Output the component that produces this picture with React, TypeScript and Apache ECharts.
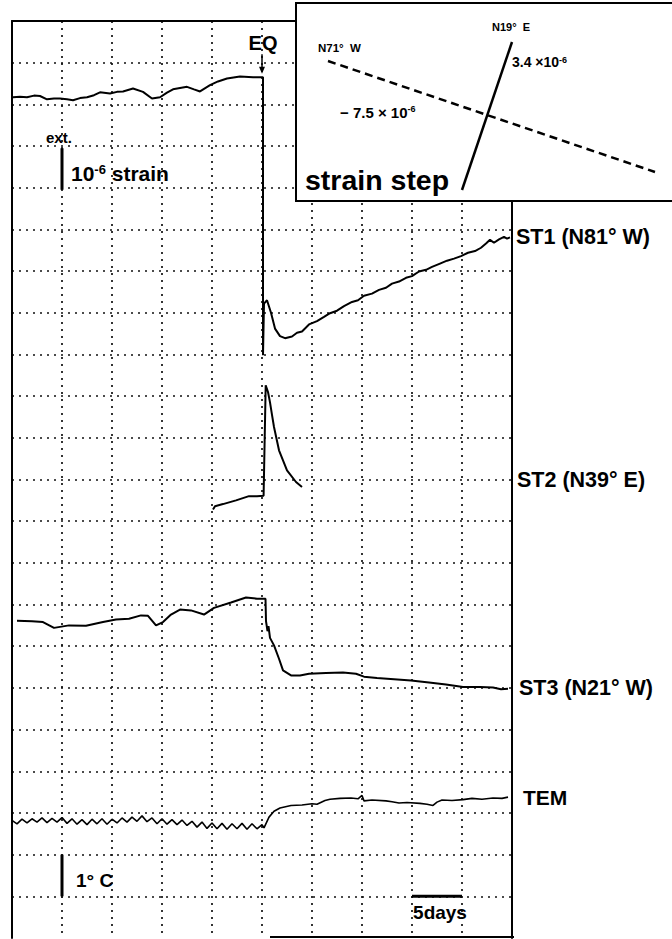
import React, { useEffect, useRef } from "react";
import * as echarts from "echarts";

// ---- axes (x in days, y in chart-paper grid units; 1 unit = 1e-6 strain / 1 deg C) ----
const DAY_MIN = 0;
const DAY_MAX = 50;
const DAY_STEP = 5;
const UNIT_MIN = 0;
const UNIT_MAX = 22;
const UNIT_STEP = 1;

// ---- ST1 (N81 W): pre-event part at top, step at EQ, post-event recovery ----
const st1Days = [0.1, 0.8, 1.5, 2.2, 2.8, 3.5, 4.2, 4.8, 5.5, 6.1, 6.8, 7.5, 8.2, 8.8, 9.8, 10.5, 11.1, 12.1, 13.1, 14.0, 14.8, 15.5, 16.1, 17.5, 18.2, 18.8, 19.8, 20.6, 21.5, 22.8, 24.1, 25.1,
  25.1, 25.2, 25.5, 25.9, 26.3, 26.8, 27.3, 28.0, 28.5, 29.0, 29.7, 30.5, 31.2, 31.8, 32.5, 33.2, 34.0, 34.6, 35.2, 36.0, 36.7, 37.4, 38.0, 38.7, 39.4, 40.0, 40.7, 41.4, 42.0, 42.8, 43.5, 44.2, 44.9, 45.6, 46.3, 46.9, 47.4, 47.8, 48.2, 48.7, 49.2, 49.5, 49.8];
const st1Vals = [20.17, 20.18, 20.17, 20.21, 20.2, 20.12, 20.14, 20.14, 20.12, 20.1, 20.15, 20.17, 20.22, 20.29, 20.26, 20.3, 20.31, 20.38, 20.3, 20.14, 20.17, 20.28, 20.36, 20.42, 20.36, 20.31, 20.46, 20.55, 20.62, 20.67, 20.65, 20.65,
  13.98, 15.22, 15.3, 15.0, 14.62, 14.44, 14.39, 14.43, 14.52, 14.55, 14.72, 14.8, 14.9, 14.99, 15.05, 15.16, 15.26, 15.3, 15.41, 15.46, 15.55, 15.6, 15.7, 15.75, 15.84, 15.88, 15.99, 16.03, 16.1, 16.18, 16.25, 16.3, 16.36, 16.44, 16.48, 16.56, 16.66, 16.75, 16.68, 16.76, 16.82, 16.78, 16.81];

// ---- ST2 (N39 E) ----
const st2Days = [20.1, 20.3, 21.1, 22.4, 23.7, 24.5, 25.16, 25.37, 25.6, 25.8, 26.0, 26.2, 26.7, 27.5, 28.4, 29.0];
const st2Vals = [10.28, 10.36, 10.41, 10.5, 10.6, 10.6, 10.61, 13.26, 13.1, 12.85, 12.55, 12.26, 11.7, 11.22, 10.94, 10.82];

// ---- ST3 (N21 W) ----
const st3Days = [0.5, 2.0, 3.1, 4.2, 5.7, 7.4, 9.1, 10.4, 11.7, 12.9, 13.6, 14.4, 15.1, 15.9, 16.8, 17.9, 19.2, 20.2, 21.9, 23.4, 24.5, 25.35,
  25.4, 25.55, 25.65, 25.8, 26.2, 26.7, 27.1, 27.9, 28.8, 29.7, 31.4, 33.1, 34.4, 35.2, 36.5, 38.2, 39.9, 41.7, 43.4, 45.1, 46.8, 48.1, 48.9, 49.6];
const st3Vals = [7.61, 7.6, 7.58, 7.44, 7.5, 7.49, 7.58, 7.64, 7.66, 7.74, 7.73, 7.5, 7.58, 7.76, 7.88, 7.86, 7.76, 7.92, 8.05, 8.17, 8.14, 8.14,
  7.6, 7.36, 7.48, 7.2, 7.02, 6.7, 6.42, 6.3, 6.3, 6.34, 6.36, 6.37, 6.34, 6.27, 6.24, 6.21, 6.18, 6.13, 6.08, 6.02, 6.02, 6.01, 5.97, 5.98];

// ---- TEM ----
const temDays = [0, 0.5, 1.0, 1.5, 2.0, 2.5, 3.0, 3.5, 4.0, 4.5, 5.0, 5.5, 6.0, 6.5, 7.0, 7.5, 8.0, 8.5, 9.0, 9.5, 10.0, 10.5, 11.0, 11.5, 12.0, 12.5, 13.0, 13.5, 14.0, 14.5, 15.0, 15.5, 16.0, 16.5, 17.0, 17.5, 18.0, 18.5, 19.0, 19.5, 20.0, 20.5, 21.0, 21.5, 22.0, 22.5, 23.0, 23.5, 24.0, 24.5, 25.0, 25.2,
  25.7, 26.2, 26.8, 27.9, 29.0, 30.0, 30.5, 31.3, 31.8, 32.8, 33.9, 34.6, 35.0, 35.2, 36.0, 37.4, 38.0, 38.7, 39.5, 40.8, 41.5, 42.1, 42.5, 43.0, 44.0, 45.1, 46.0, 47.0, 48.1, 49.0, 49.6];
const temVals = [2.82, 2.74, 2.85, 2.76, 2.86, 2.78, 2.88, 2.77, 2.87, 2.78, 2.89, 2.75, 2.86, 2.73, 2.84, 2.72, 2.85, 2.74, 2.86, 2.73, 2.85, 2.76, 2.88, 2.78, 2.9, 2.8, 2.93, 2.79, 2.88, 2.74, 2.86, 2.73, 2.84, 2.72, 2.83, 2.7, 2.8, 2.66, 2.78, 2.63, 2.76, 2.62, 2.75, 2.61, 2.74, 2.62, 2.75, 2.61, 2.74, 2.62, 2.72, 2.64,
  2.9, 3.04, 3.12, 3.18, 3.19, 3.22, 3.21, 3.3, 3.33, 3.35, 3.36, 3.34, 3.42, 3.29, 3.31, 3.29, 3.27, 3.24, 3.25, 3.23, 3.21, 3.18, 3.26, 3.31, 3.3, 3.32, 3.35, 3.33, 3.36, 3.35, 3.38];

// ---- scale bars & event marker ----
const strainBarDays = [5, 5];
const strainBarVals = [17.95, 18.95];
const tempBarDays = [5, 5];
const tempBarVals = [1, 2];
const fiveDayBarDays = [40, 45];
const fiveDayBarVals = [1, 1];
const eqDay = 25;
const eqArrowVals = [21.2, 20.82];

const zip = (xs: number[], ys: number[]) => xs.map((x, i) => [x, ys[i]]);

const FONT = "'Liberation Sans', Arial, Helvetica, sans-serif";

export default function App() {
  const ref = useRef<HTMLDivElement>(null);
  useEffect(() => {
    if (!ref.current) return;
    const chart = echarts.init(ref.current, undefined, { renderer: "svg" });
    const dotted = { type: [2, 5] as any, width: 1.7, color: "#111" };
    const traceLine = (data: number[][], width: number) => ({
      type: "line",
      data,
      symbol: "none",
      smooth: false,
      lineStyle: { color: "#000", width },
      z: 5,
    });
    const txt = (text: string, x: number, y: number, size: number, align = "left", extra: any = {}) => ({
      type: "text",
      x,
      y,
      z: 110,
      style: {
        text,
        fill: "#000",
        font: `bold ${size}px ${FONT}`,
        align,
        verticalAlign: "middle",
        ...extra,
      },
    });
    const sup = (base: number, small: number) => ({
      a: { fontSize: base, fontWeight: "bold", fontFamily: FONT, fill: "#000" },
      s: { fontSize: small, fontWeight: "bold", fontFamily: FONT, fill: "#000", verticalAlign: "top" },
    });

    chart.setOption({
      animation: false,
      backgroundColor: "#fff",
      grid: { left: 12, top: 21, width: 500, height: 917, containLabel: false },
      xAxis: [
        {
          type: "value", min: DAY_MIN, max: DAY_MAX, interval: DAY_STEP,
          axisLine: { show: false }, axisTick: { show: false }, axisLabel: { show: false },
          splitLine: { show: true, showMinLine: false, showMaxLine: false, lineStyle: dotted },
        },
        {
          type: "value", position: "top", min: DAY_MIN, max: DAY_MAX, interval: DAY_STEP,
          axisLine: { show: true, onZero: false, lineStyle: { color: "#000", width: 2 } },
          axisTick: { show: false }, axisLabel: { show: false }, splitLine: { show: false },
        },
      ],
      yAxis: [
        {
          type: "value", min: UNIT_MIN, max: UNIT_MAX, interval: UNIT_STEP,
          axisLine: { show: true, onZero: false, lineStyle: { color: "#000", width: 2 } },
          axisTick: { show: false }, axisLabel: { show: false },
          splitLine: { show: true, showMinLine: false, showMaxLine: false, lineStyle: dotted },
        },
        {
          type: "value", position: "right", min: UNIT_MIN, max: UNIT_MAX, interval: UNIT_STEP,
          axisLine: { show: true, onZero: false, lineStyle: { color: "#000", width: 2 } },
          axisTick: { show: false }, axisLabel: { show: false }, splitLine: { show: false },
        },
      ],
      series: [
        traceLine(zip(st1Days, st1Vals), 2),
        traceLine(zip(st2Days, st2Vals), 2),
        traceLine(zip(st3Days, st3Vals), 2),
        traceLine(zip(temDays, temVals), 1.6),
        traceLine(zip(strainBarDays, strainBarVals), 3),
        traceLine(zip(tempBarDays, tempBarVals), 3),
        traceLine(zip(fiveDayBarDays, fiveDayBarVals), 3),
        {
          type: "line",
          showSymbol: true,
          symbol: "none",
          lineStyle: { color: "#000", width: 1.5 },
          data: [
            { value: [eqDay, eqArrowVals[0]], symbol: "none" },
            { value: [eqDay, eqArrowVals[1]], symbol: "triangle", symbolSize: [6, 7], symbolRotate: 180, itemStyle: { color: "#000" } },
          ],
          z: 6,
        },
      ],
      graphic: [
        // partial bottom frame
        { type: "line", z: 50, shape: { x1: 270, y1: 937, x2: 514, y2: 937 }, style: { stroke: "#000", lineWidth: 2 } },
        // inset box
        { type: "rect", z: 100, shape: { x: 296, y: 3, width: 400, height: 198 }, style: { fill: "#fff", stroke: "#000", lineWidth: 2 } },
        { type: "line", z: 105, shape: { x1: 328, y1: 61, x2: 655, y2: 172 }, style: { stroke: "#000", lineWidth: 2.5, lineDash: [8, 5] } },
        { type: "line", z: 105, shape: { x1: 512, y1: 42, x2: 462, y2: 190 }, style: { stroke: "#000", lineWidth: 2.5 } },
        txt("N71°  W", 318, 48, 11.5),
        txt("N19°  E", 492, 27, 11),
        txt("{a|3.4 ×10}{s|-6}", 512, 62, 14, "left", { rich: sup(14, 9) }),
        txt("{a|− 7.5 × 10}{s|-6}", 340, 112, 14, "left", { rich: sup(15, 9) }),
        txt("strain step", 305, 180, 28.5),
        // main annotations
        txt("EQ", 263, 43, 20, "center"),
        txt("ext.", 46, 137, 15),
        txt("{a|10}{s|-6}{a| strain}", 71, 173, 21, "left", { rich: sup(21, 13) }),
        txt("ST1 (N81° W)", 516, 237, 21.5),
        txt("ST2 (N39° E)", 517, 480, 21.5),
        txt("ST3 (N21° W)", 519, 688, 21.5),
        txt("TEM", 523, 797, 21),
        txt("1° C", 76, 880, 19),
        txt("5days", 440, 912, 19, "center"),
      ],
    });
    return () => chart.dispose();
  }, []);
  return <div ref={ref} style={{ position: "fixed", left: 0, top: 0, width: 672, height: 939 }} />;
}
